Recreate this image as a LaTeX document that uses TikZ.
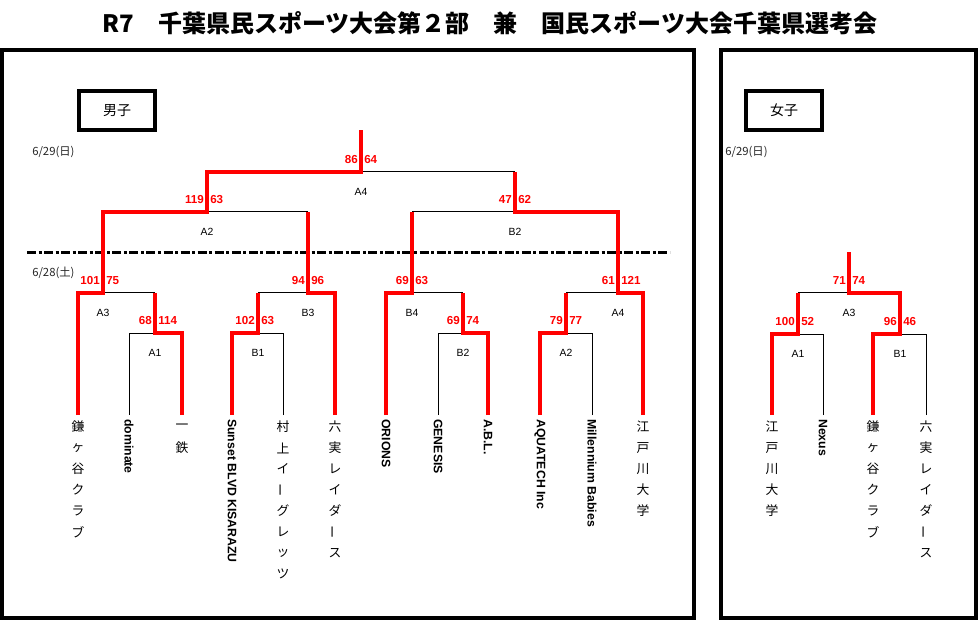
\documentclass[tikz,border=0pt]{standalone}
\usepackage{fontspec}
\usepackage{graphicx}
\usetikzlibrary{calc}
\setmainfont{Liberation Sans}
\newfontfamily\jp{Noto Sans CJK JP}
\newcommand\jpchoon{\rotatebox[origin=c]{90}{ー}}
\newcommand\mkmatch[8]{%
  \coordinate (#1) at (#2,#3);
  \coordinate (#1l) at (#4,#3);
  \coordinate (#1r) at (#5,#3);
  \draw[thinline] (#1l) -- (#1r);
  \node[score,anchor=east] (#1sa) at ($(#1)+(-3,-12.5)$) {#6};
  \node[score,anchor=west] (#1sb) at ($(#1)+(3,-12.5)$) {#7};
  \node[lbl] (#1lb) at ($(#1)+(0,20)$) {#8};
}
\newcommand\jpteam[3]{%
  \foreach \c [count=\i from 0] in {#3} \node[jpch] (#1c\i) at (#2,427+21*\i) {\c};
}
\begin{document}
\begin{tikzpicture}[x=0.75pt,y=-0.75pt,
  frame/.style={draw=black,line width=3pt},
  catbox/.style={draw=black,line width=3pt,minimum width=57pt,minimum height=29.25pt,inner sep=0pt,font=\jp\fontsize{10.5}{12}\selectfont},
  thinline/.style={draw=black,line width=0.75pt},
  winline/.style={draw=red,line width=3pt},
  score/.style={text=red,font=\bfseries\fontsize{8.7}{10}\selectfont,inner sep=0pt},
  lbl/.style={font=\fontsize{7.8}{9}\selectfont,inner sep=0pt},
  datelbl/.style={font=\jp\fontsize{8.5}{10}\selectfont,anchor=west,inner sep=0pt,text=black!85},
  jpch/.style={font=\jp\fontsize{9.6}{11}\selectfont,inner sep=0pt},
  latteam/.style={rotate=-90,anchor=west,font=\bfseries\fontsize{9.2}{11}\selectfont,inner sep=0pt},
  titlestyle/.style={font=\jp\bfseries\fontsize{18}{22}\selectfont,inner sep=0pt},
  daysep/.style={draw=black,line width=2.25pt,dash pattern=on 6.75pt off 1.9pt on 2.25pt off 1.9pt}
]
\useasboundingbox (0,0) rectangle (978,620);
\fill[white] (0,0) rectangle (978,620);

% title
\node[titlestyle] (title) at (490,23) {R7　千葉県民スポーツ大会第２部　兼　国民スポーツ大会千葉県選考会};

% frames
\draw[frame] (2,50) rectangle (694,618);
\draw[frame] (721,50) rectangle (976,618);

% category boxes
\node[catbox] (boxM) at (117,110.5) {男子};
\node[catbox] (boxW) at (784,110.5) {女子};

% dates
\node[datelbl] (d1) at (32,152) {6/29(日)};
\node[datelbl] (d2) at (32,273) {6/28(土)};
\node[datelbl] (d3) at (725,152) {6/29(日)};

% day separator
\coordinate (dsl) at (27,253);
\coordinate (dsr) at (670,253);
\draw[daysep] (dsl) -- (dsr);

% men's matches
\mkmatch{F}{361}{171.7}{207}{515}{86}{64}{A4}
\mkmatch{SA}{207}{211.7}{103}{308}{119}{63}{A2}
\mkmatch{SB}{515}{211.7}{412}{618}{47}{62}{B2}
\mkmatch{QA}{103}{293}{78}{155}{101}{75}{A3}
\mkmatch{QB}{308}{293}{258}{335}{94}{96}{B3}
\mkmatch{QC}{412}{293}{386}{463}{69}{63}{B4}
\mkmatch{QD}{618}{293}{566}{643}{61}{121}{A4}
\mkmatch{RA}{155}{333}{129}{182}{68}{114}{A1}
\mkmatch{RB}{258}{333}{232}{283}{102}{63}{B1}
\mkmatch{RC}{463}{333}{438}{488}{69}{74}{B2}
\mkmatch{RD}{566}{333}{540}{592}{79}{77}{A2}
% women's matches
\mkmatch{WF}{849}{293}{798}{900}{71}{74}{A3}
\mkmatch{WA}{798}{334}{772}{823}{100}{52}{A1}
\mkmatch{WB}{900}{334}{873}{926}{96}{46}{B1}

\coordinate (Ftop) at (361,130);
\coordinate (WFtop) at (849,252);
\foreach \n/\x in {1/78,2/129,3/182,4/232,5/283,6/335,7/386,8/438,9/488,10/540,11/592,12/643}
  \coordinate (m\n) at (\x,415);
\foreach \n/\x in {1/772,2/823,3/873,4/926}
  \coordinate (w\n) at (\x,415);

% losing first-round legs
\draw[thinline] (m2) -- (RAl);
\draw[thinline] (m5) -- (RBr);
\draw[thinline] (m8) -- (RCl);
\draw[thinline] (m11) -- (RDr);
\draw[thinline] (w2) -- (WAr);
\draw[thinline] (w4) -- (WBr);

% winning paths
\draw[winline] (m1) -- (QAl) -- (QA) -- (SAl) -- (SA) -- (Fl) -- (F) -- (Ftop);
\draw[winline] (m3) -- (RAr) -- (RA) -- (QAr);
\draw[winline] (m4) -- (RBl) -- (RB) -- (QBl);
\draw[winline] (m6) -- (QBr) -- (QB) -- (SAr);
\draw[winline] (m7) -- (QCl) -- (QC) -- (SBl);
\draw[winline] (m9) -- (RCr) -- (RC) -- (QCr);
\draw[winline] (m12) -- (QDr) -- (QD) -- (SBr) -- (SB) -- (Fr);
\draw[winline] (m10) -- (RDl) -- (RD) -- (QDl);
\draw[winline] (w3) -- (WBl) -- (WB) -- (WFr) -- (WF) -- (WFtop);
\draw[winline] (w1) -- (WAl) -- (WA) -- (WFl);

% team names (men)
\jpteam{n1}{78}{鎌,ヶ,谷,ク,ラ,ブ}
\node[latteam] (n2) at ($(m2)+(0,4)$) {dominate};
\jpteam{n3}{182}{一,鉄}
\node[latteam] (n4) at ($(m4)+(0,4)$) {Sunset BLVD KISARAZU};
\jpteam{n5}{283}{村,上,イ,\jpchoon,グ,レ,ッ,ツ}
\jpteam{n6}{335}{六,実,レ,イ,ダ,\jpchoon,ス}
\node[latteam] (n7) at ($(m7)+(0,4)$) {ORIONS};
\node[latteam] (n8) at ($(m8)+(0,4)$) {GENESIS};
\node[latteam] (n9) at ($(m9)+(0,4)$) {A.B.L.};
\node[latteam] (n10) at ($(m10)+(0,4)$) {AQUATECH Inc};
\node[latteam] (n11) at ($(m11)+(0,4)$) {Millennium Babies};
\jpteam{n12}{643}{江,戸,川,大,学}
% team names (women)
\jpteam{v1}{772}{江,戸,川,大,学}
\node[latteam] (v2) at ($(w2)+(0,4)$) {Nexus};
\jpteam{v3}{873}{鎌,ヶ,谷,ク,ラ,ブ}
\jpteam{v4}{926}{六,実,レ,イ,ダ,\jpchoon,ス}
\end{tikzpicture}
\end{document}
